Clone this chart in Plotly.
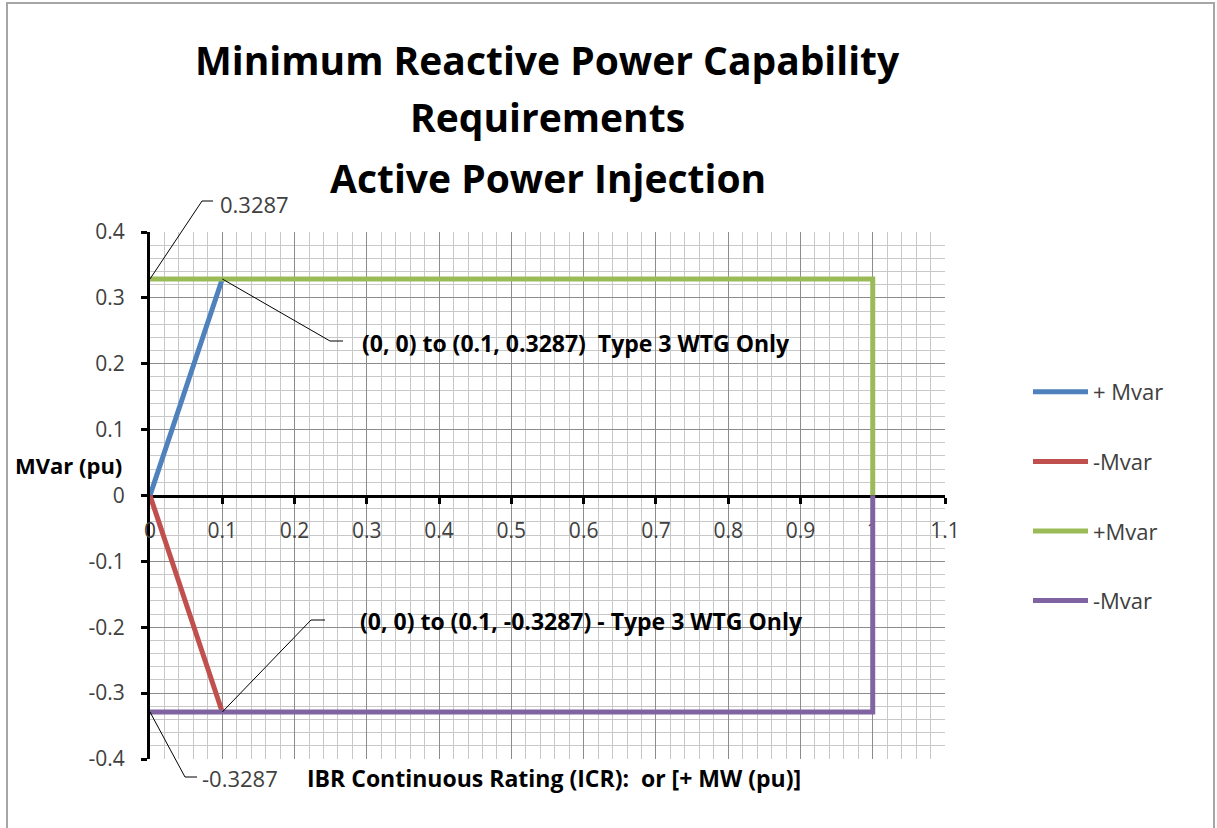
import plotly.graph_objects as go

# ---------------- data ----------------
Q = 0.3287
blue_x = [0, 0.1]
blue_y = [0, Q]
red_x = [0, 0.1]
red_y = [0, -Q]
green_x = [0, 1, 1]
green_y = [Q, Q, 0]
purple_x = [0, 1, 1]
purple_y = [-Q, -Q, 0]
series_names = ["+ Mvar", "-Mvar", "+Mvar", "-Mvar"]
series_colors = ["#4F81BD", "#C0504D", "#9BBB59", "#8064A2"]
title_lines = ["Minimum Reactive Power Capability", "Requirements", "Active Power Injection"]
x_ticks = [0, 0.1, 0.2, 0.3, 0.4, 0.5, 0.6, 0.7, 0.8, 0.9, 1, 1.1]
x_ticklabels = ["0", "0.1", "0.2", "0.3", "0.4", "0.5", "0.6", "0.7", "0.8", "0.9", "1", "1.1"]
y_ticks = [-0.4, -0.3, -0.2, -0.1, 0, 0.1, 0.2, 0.3, 0.4]
y_ticklabels = ["-0.4", "-0.3", "-0.2", "-0.1", "0", "0.1", "0.2", "0.3", "0.4"]
x_range = [0, 1.1]
y_range = [-0.4, 0.4]

W, H = 1217, 828
L, R, T, B = 150, 272, 232, 69
PW, PH = W - L - R, H - T - B

def px2x(px):
    return (px - L) / PW

def px2y(py):
    return (H - B - py) / PH

def d2x(v):
    return (v - x_range[0]) / (x_range[1] - x_range[0])

def d2y(v):
    return (v - y_range[0]) / (y_range[1] - y_range[0])

FONT = "Open Sans"
TICK_COLOR = "#404040"
fig = go.Figure()
for i, (xs, ys) in enumerate([(blue_x, blue_y), (red_x, red_y), (green_x, green_y), (purple_x, purple_y)]):
    fig.add_trace(go.Scatter(x=xs, y=ys, mode="lines", name=series_names[i],
                             line=dict(color=series_colors[i], width=5),
                             legendgroup=f"g{i}", cliponaxis=False))

fig.update_layout(
    width=W, height=H,
    margin=dict(l=L, r=R, t=T, b=B),
    plot_bgcolor="white", paper_bgcolor="white",
    font=dict(family=FONT, color=TICK_COLOR, size=18),
    showlegend=True,
    legend=dict(x=px2x(1028), y=px2y(371), xanchor="left", yanchor="top",
                itemwidth=55, tracegroupgap=38, font=dict(size=22, color=TICK_COLOR),
                bgcolor="rgba(0,0,0,0)"),
)

fig.update_xaxes(range=x_range, tickvals=x_ticks, ticktext=x_ticklabels,
                 showgrid=True, gridcolor="#8c8c8c", gridwidth=1,
                 minor=dict(dtick=0.02, tick0=0, showgrid=True, gridcolor="#c8c8c8", gridwidth=1),
                 zeroline=False, showline=True, linecolor="black", linewidth=3,
                 anchor="free", position=0.5, ticks="outside", ticklen=6, tickwidth=3, tickcolor="black",
                 ticklabelstandoff=9, layer="below traces", tickfont=dict(size=21, color=TICK_COLOR))
fig.update_yaxes(range=y_range, tickvals=y_ticks, ticktext=y_ticklabels,
                 showgrid=True, gridcolor="#8c8c8c", gridwidth=1,
                 minor=dict(dtick=0.02, tick0=0, showgrid=True, gridcolor="#c8c8c8", gridwidth=1),
                 zeroline=False, showline=True, linecolor="black", linewidth=3,
                 ticks="outside", ticklen=6, tickwidth=3, tickcolor="black",
                 ticklabelstandoff=12, layer="below traces", tickfont=dict(size=21, color=TICK_COLOR))

# outer chart border
fig.add_shape(type="rect", xref="paper", yref="paper",
              x0=px2x(7), x1=px2x(1214), y0=px2y(860), y1=px2y(3),
              line=dict(color="#a6a6a6", width=2), fillcolor="rgba(0,0,0,0)", layer="below")

# title
for line, cy in zip(title_lines, [60, 117, 177]):
    fig.add_annotation(xref="paper", yref="paper", x=0.5, y=px2y(cy), text=f"<b>{line}</b>",
                       showarrow=False, xanchor="center", yanchor="middle",
                       font=dict(family=FONT, size=39, color="black"))

# leader lines (from data point to bend to label)
leaders = [
    ((0, Q), (202, 201), (213, 201)),
    ((0.1, Q), (330, 341), (343, 341)),
    ((0.1, -Q), (311, 620), (325, 620)),
    ((0, -Q), (185, 777), (197, 777)),
]
for (dx, dy), (bx, by), (ex, ey) in leaders:
    path = (f"M {d2x(dx)} {d2y(dy)} L {px2x(bx)} {px2y(by)} L {px2x(ex)} {px2y(ey)}")
    fig.add_shape(type="path", xref="paper", yref="paper", path=path,
                  line=dict(color="black", width=1))

texts = [
    ("0.3287", 218, 204, False, 22),
    ("(0, 0) to (0.1, 0.3287)  Type 3 WTG Only", 360, 343, True, 23),
    ("(0, 0) to (0.1, -0.3287) - Type 3 WTG Only", 358, 621, True, 23),
    ("-0.3287", 200, 778, False, 22),
    ("IBR Continuous Rating (ICR):  or [+ MW (pu)]", 305, 778, True, 23),
    ("MVar (pu)", 13, 465, True, 22),
]
for t, x, y, bold, sz in texts:
    fig.add_annotation(xref="paper", yref="paper", x=px2x(x), y=px2y(y),
                       text=f"<b>{t}</b>" if bold else t, showarrow=False,
                       xanchor="left", yanchor="middle",
                       font=dict(family=FONT, size=sz, color="black" if bold else TICK_COLOR))

fig.write_html("out.html", config={"displayModeBar": False},
               post_script="document.body.style.margin='0';document.body.style.overflow='hidden';")
